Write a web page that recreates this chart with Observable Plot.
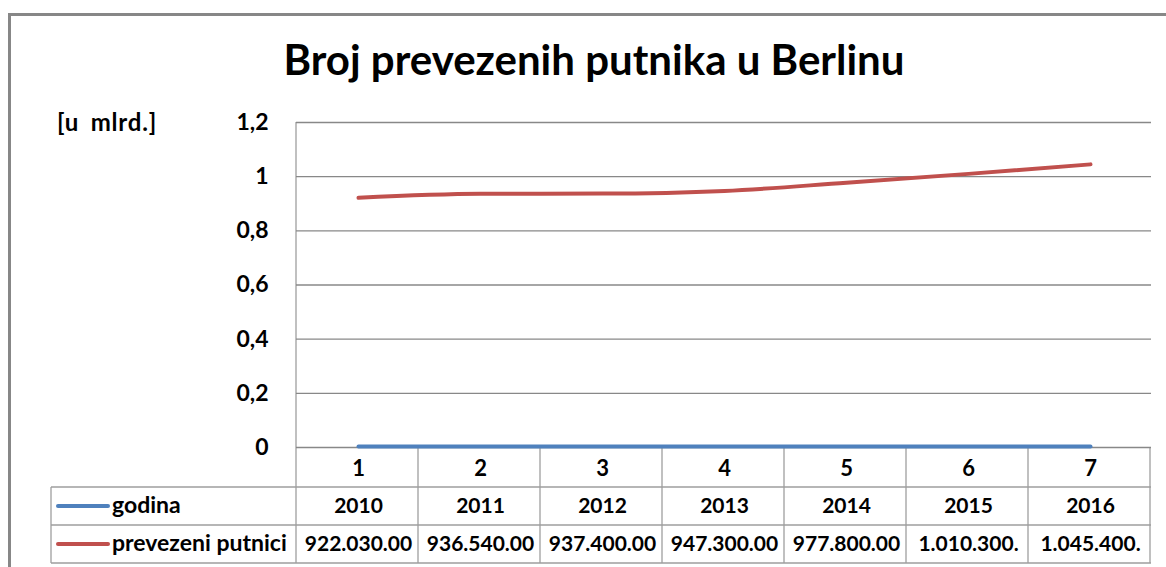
<!DOCTYPE html>
<html><head><meta charset="utf-8">
<script src="https://cdn.jsdelivr.net/npm/d3@7"></script>
<script src="https://cdn.jsdelivr.net/npm/@observablehq/plot@0.6"></script>
<style>
html,body{margin:0;padding:0;background:#fff;overflow:hidden;}
#wrap{position:relative;width:1166px;height:567px;font-family:Lato,sans-serif;color:#000;overflow:hidden;}
#frame{position:absolute;left:8px;top:13px;width:1200px;height:620px;border:3px solid #878787;box-sizing:border-box;}
#title{position:absolute;left:194px;width:800px;top:38px;text-align:center;font-size:42px;font-weight:700;line-height:1;white-space:nowrap;}
#ylabel{position:absolute;left:57px;top:110px;font-size:24px;font-weight:700;line-height:1;white-space:nowrap;letter-spacing:0.8px;word-spacing:5px;}
#chart{position:absolute;left:0;top:0;}
</style></head><body>
<div id="wrap"><div id="frame"></div><div id="chart"></div><div id="title">Broj prevezenih putnika u Berlinu</div><div id="ylabel">[u mlrd.]</div></div>
<script>
const categories = [1, 2, 3, 4, 5, 6, 7];
const godina = [2010, 2011, 2012, 2013, 2014, 2015, 2016];
const putnici = [922030000, 936540000, 937400000, 947300000, 977800000, 1010300000, 1045400000];
const putniciLabels = ["922.030.00", "936.540.00", "937.400.00", "947.300.00", "977.800.00", "1.010.300.", "1.045.400."];
const yTicks = [0, 0.2, 0.4, 0.6, 0.8, 1, 1.2];
const seriesNames = ["godina", "prevezeni putnici"];
const seriesColors = ["#4F81BD", "#C0504D"];

const data = categories.map((c, i) => ({cat: c, godina: godina[i], putnici: putnici[i], label: putniciLabels[i]}));
const fmt = d => d3.format("~g")(d).replace(".", ",");
const font = "Lato, sans-serif";

const plot = Plot.plot({
  width: 1166, height: 567,
  marginLeft: 296, marginRight: 15, marginTop: 122, marginBottom: 120,
  style: {fontFamily: font, background: "transparent", color: "#000", overflow: "visible"},
  x: {type: "band", domain: categories, padding: 0, axis: null},
  y: {domain: [0, 1.2], axis: null},
  marks: [
    Plot.ruleY(yTicks, {stroke: "#888", strokeWidth: 1.3}),
    Plot.axisY(yTicks, {tickSize: 0, tickPadding: 28, tickFormat: fmt, fontSize: 23, fontWeight: "bold", label: null}),
    Plot.line(data, {x: "cat", y: d => d.godina / 1e9, stroke: seriesColors[0], strokeWidth: 4, strokeLinecap: "round", dy: -1}),
    Plot.line(data, {x: "cat", y: d => d.putnici / 1e9, stroke: seriesColors[1], strokeWidth: 4, curve: "monotone-x", strokeLinecap: "round"}),
    Plot.text(data, {x: "cat", text: d => String(d.cat), frameAnchor: "bottom", lineAnchor: "middle", dy: 21, fontSize: 22, fontWeight: "bold"}),
    Plot.text(data, {x: "cat", text: d => String(d.godina), frameAnchor: "bottom", lineAnchor: "middle", dy: 59, fontSize: 21, fontWeight: "bold"}),
    Plot.text(data, {x: "cat", text: "label", frameAnchor: "bottom", lineAnchor: "middle", dy: 97, fontSize: 21, fontWeight: "bold"})
  ]
});
document.getElementById("chart").appendChild(plot);

// data table grid + legend keys, positioned from the Plot scales
const svg = d3.select(plot);
const xs = plot.scale("x"), ysc = plot.scale("y");
const y0 = ysc.apply(0), yTop = ysc.apply(1.2);
const left = Math.min(...xs.range), right = Math.max(...xs.range), bw = xs.bandwidth;
const rows = [y0, y0 + 40, y0 + 78, y0 + 116];
const legendLeft = 51;
const g = svg.insert("g", ":first-child").attr("stroke", "#9e9e9e").attr("stroke-width", 1.3);
[rows[1], rows[2], rows[3]].forEach(yy => g.append("line").attr("x1", legendLeft).attr("x2", right).attr("y1", yy).attr("y2", yy));
g.append("line").attr("x1", legendLeft).attr("x2", legendLeft).attr("y1", rows[1]).attr("y2", rows[3]);
g.append("line").attr("x1", left).attr("x2", left).attr("y1", yTop).attr("y2", rows[3]);
categories.forEach((c, i) => {
  const xe = left + (i + 1) * bw;
  g.append("line").attr("x1", xe).attr("x2", xe).attr("y1", y0).attr("y2", rows[3]);
});
const lg = svg.append("g").attr("font-family", font).attr("font-size", 23).attr("font-weight", "bold").attr("text-anchor", "start");
seriesNames.forEach((name, i) => {
  const yy = (rows[i + 1] + rows[i + 2]) / 2;
  lg.append("line").attr("x1", 58).attr("x2", 108).attr("y1", yy).attr("y2", yy)
    .attr("stroke", seriesColors[i]).attr("stroke-width", 4).attr("stroke-linecap", "round");
  lg.append("text").attr("x", 112).attr("y", yy).attr("dy", "0.32em").attr("text-anchor", "start").text(name);
});
</script>
</body></html>
